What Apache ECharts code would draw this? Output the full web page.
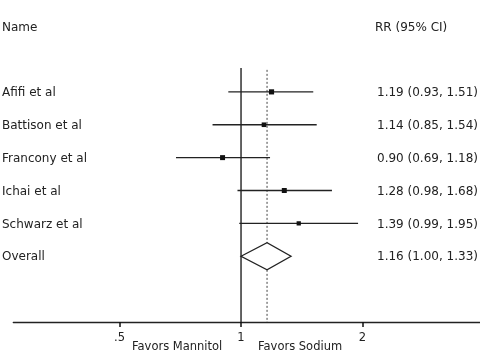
<!DOCTYPE html>
<html><head><meta charset="utf-8">
<script src="https://cdn.jsdelivr.net/npm/echarts@6/dist/echarts.min.js"></script>
<style>html,body{margin:0;padding:0;background:#fff}#c{width:480px;height:360px}</style>
</head><body><div id="c"></div>
<script>
const names = ['Afifi et al','Battison et al','Francony et al','Ichai et al','Schwarz et al'];
const rr = [1.19, 1.14, 0.90, 1.28, 1.39];
const lower = [0.93, 0.85, 0.69, 0.98, 0.99];
const upper = [1.51, 1.54, 1.18, 1.68, 1.95];
const weights = [24, 18, 22, 22, 14];
const overall = {name:'Overall', rr:1.16, lower:1.00, upper:1.33};
const xTicks = [0.5, 1, 2];
const tickLabels = ['.5','1','2'];
const headers = ['Name','RR (95% CI)'];
const favors = ['Favors Mannitol','Favors Sodium'];

const FONT = 'DejaVu Sans';
const C = '#222';
const fmt = v => v.toFixed(2);

const studyData = names.map((n,i)=>[lower[i], rr[i], upper[i], i+1, n, weights[i]]);
const overallData = [[overall.lower, overall.rr, overall.upper, names.length+1, overall.name]];

const chart = echarts.init(document.getElementById('c'), null, {renderer:'canvas'});
chart.setOption({
  animation:false,
  grid:{left:13.3, right:0, top:59, height:263},
  xAxis:{type:'log', logBase:2, min:0.2727, max:3.91, position:'bottom',
    axisLine:{onZero:false, lineStyle:{color:C, width:1.3}},
    axisTick:{show:true, inside:false, length:5, lineStyle:{color:'#111', width:1.5}, customValues: xTicks},
    axisLabel:{color:C, fontFamily:FONT, fontSize:11.5, margin:10,
      customValues: xTicks,
      formatter: v => { const i = xTicks.findIndex(t=>Math.abs(t-v)<1e-6); return i>=0? tickLabels[i] : ''; }},
    splitLine:{show:false}},
  yAxis:{type:'value', min:0, max:8, inverse:true, show:false},
  graphic:[
    {type:'text', left:2, top:22, style:{text:headers[0], font:'12px '+FONT, fill:C}},
    {type:'text', left:375, top:22, style:{text:headers[1], font:'12px '+FONT, fill:C}},
    {type:'text', left:132, top:341, style:{text:favors[0], font:'11.5px '+FONT, fill:C}},
    {type:'text', left:258, top:341, style:{text:favors[1], font:'11.5px '+FONT, fill:C}}
  ],
  series:[
    {type:'custom', silent:true, data:[[1, overall.rr]],
      renderItem:(params, api)=>{
        const a = api.coord([1, 0.27]), b = api.coord([1, 8]);
        const c1 = api.coord([overall.rr, 0.33]), c2 = api.coord([overall.rr, 8]);
        return {type:'group', children:[
          {type:'line', shape:{x1:a[0],y1:a[1],x2:b[0],y2:b[1]}, style:{stroke:C, lineWidth:1.4}},
          {type:'line', shape:{x1:c1[0],y1:c1[1],x2:c2[0],y2:c2[1]}, style:{stroke:'#444', lineWidth:1, lineDash:[2,2]}}
        ]};
      }},
    {type:'custom', silent:true, data:studyData,
      renderItem:(params, api)=>{
        const lo=api.value(0), est=api.value(1), hi=api.value(2), y=api.value(3);
        const d = studyData[params.dataIndex];
        const p1=api.coord([lo,y]), p2=api.coord([hi,y]), pc=api.coord([est,y]);
        const s = 3 + d[5]*0.09;
        return {type:'group', children:[
          {type:'line', shape:{x1:p1[0],y1:p1[1],x2:p2[0],y2:p2[1]}, style:{stroke:C, lineWidth:1.3}},
          {type:'rect', shape:{x:pc[0]-s/2, y:pc[1]-s/2, width:s, height:s}, style:{fill:'#111'}},
          {type:'text', x:2, y:pc[1]+1, style:{text:d[4], font:'12px '+FONT, fill:C, textVerticalAlign:'middle'}},
          {type:'text', x:377, y:pc[1]+1, style:{text:fmt(est)+' ('+fmt(lo)+', '+fmt(hi)+')', font:'12px '+FONT, fill:C, textVerticalAlign:'middle'}}
        ]};
      }},
    {type:'custom', silent:true, data:overallData,
      renderItem:(params, api)=>{
        const lo=api.value(0), est=api.value(1), hi=api.value(2), y=api.value(3);
        const d = overallData[params.dataIndex];
        const pl=api.coord([lo,y]), ph=api.coord([hi,y]), pt=api.coord([est,y-0.41]), pb=api.coord([est,y+0.41]);
        return {type:'group', children:[
          {type:'polygon', shape:{points:[pl,pt,ph,pb]}, style:{fill:'#fff', stroke:C, lineWidth:1.3}},
          {type:'text', x:2, y:pl[1]+1, style:{text:d[4], font:'12px '+FONT, fill:C, textVerticalAlign:'middle'}},
          {type:'text', x:377, y:pl[1]+1, style:{text:fmt(est)+' ('+fmt(lo)+', '+fmt(hi)+')', font:'12px '+FONT, fill:C, textVerticalAlign:'middle'}}
        ]};
      }}
  ]
});
</script></body></html>
